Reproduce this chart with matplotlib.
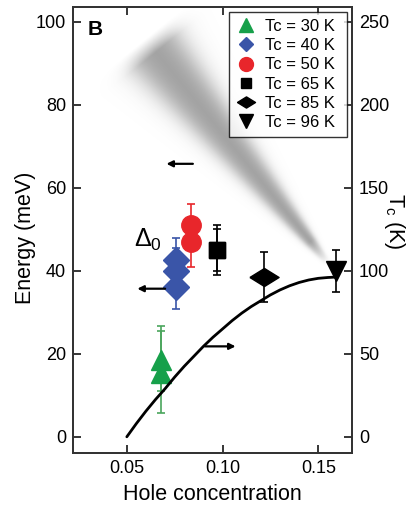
import numpy as np
import matplotlib
matplotlib.use('Agg')
import matplotlib.pyplot as plt
from matplotlib.lines import Line2D

plt.rcParams['font.family'] = ['Liberation Sans', 'DejaVu Sans']
plt.rcParams['mathtext.fontset'] = 'custom'
plt.rcParams['mathtext.rm'] = 'Liberation Sans'
plt.rcParams['mathtext.it'] = 'Liberation Sans:italic'

# gap data (energy in meV) per sample
tc30_x = [0.068, 0.068]
tc30_y = [18.5, 15.5]
tc30_err = [[7.5, 9.7], [8.3, 10.1]]
tc40_x = [0.0755, 0.0755, 0.0755]
tc40_y = [42.5, 40.0, 36.0]
tc40_err = [5.5, 5.5, 5.2]
tc50_x = [0.0835, 0.0835]
tc50_y = [51.0, 47.0]
tc50_err = [5.0, 6.0]
tc65_x = [0.097, 0.097]
tc65_y = [45.0, 45.0]
tc65_err = [6.0, 5.0]
tc85_x = [0.1215]
tc85_y = [38.5]
tc85_err = [6.0]
tc96_x = [0.159]
tc96_y = [40.0]
tc96_err = [5.0]

# Tc dome
dome_p = [0.050, 0.055, 0.060, 0.065, 0.070, 0.075, 0.080, 0.085, 0.090, 0.095,
          0.100, 0.105, 0.110, 0.115, 0.120, 0.125, 0.130, 0.135, 0.140, 0.145,
          0.150, 0.155, 0.160]
dome_tc = [0, 8, 15.5, 22.5, 29, 36, 42.5, 48.5, 54.5, 60,
           65, 70, 74.5, 78.5, 82, 85.5, 88.5, 91, 93, 94.5,
           95.5, 96, 96.3]

legend_labels = ['Tc = 30 K', 'Tc = 40 K', 'Tc = 50 K', 'Tc = 65 K', 'Tc = 85 K', 'Tc = 96 K']

xlim = (0.0219, 0.1676)
ylim = (-3.9, 103.6)

fig = plt.figure(figsize=(4.09, 5.14), dpi=100)
ax = fig.add_axes([0.1785, 0.1187, 0.6821, 0.8677])
ax.set_xlim(*xlim)
ax.set_ylim(*ylim)

# gray shaded streak (soft wedge)
nx, ny = 300, 400
gx = np.linspace(xlim[0], xlim[1], nx)
gy = np.linspace(ylim[0], ylim[1], ny)
GX, GY = np.meshgrid(gx, gy)
sx, sy = 95.5 / 0.05, 83 / 20.0
p0 = np.array([0.061 * sx, 95.2 * sy])
p1 = np.array([0.1526 * sx, 43.4 * sy])
d = p1 - p0
L = np.hypot(*d)
u = d / L
nrm = np.array([-u[1], u[0]])
PX = GX * sx - p0[0]
PY = GY * sy - p0[1]
t = (PX * u[0] + PY * u[1]) / L
dist = PX * nrm[0] + PY * nrm[1]
tc_ = np.clip(t, 0, 1)
w = 50 * (1 - tc_) + 6 * tc_
inten = 1.0 / (1.0 + np.exp((np.abs(dist) - 0.55 * w) / (0.17 * w)))
inten *= np.clip((t + 0.015) / 0.06, 0, 1) ** 1.2
inten *= np.clip((1.03 - t) / 0.10, 0, 1)
img = np.zeros((ny, nx, 4))
img[..., :3] = 0.56
img[..., 3] = 0.85 * inten
ax.imshow(img, extent=(xlim[0], xlim[1], ylim[0], ylim[1]), origin='lower',
          aspect='auto', zorder=0, interpolation='bilinear')

ebk = dict(ls='none', capsize=3, elinewidth=1.2, capthick=1.2)
ax.errorbar(tc30_x, tc30_y, yerr=tc30_err, marker='^', ms=14, color='#16a04a',
            ecolor='#4aa55c', mec='#16a04a', **ebk)
ax.errorbar(tc40_x, tc40_y, yerr=tc40_err, marker='D', ms=13, color='#3a55a8',
            ecolor='#3a55a8', **ebk)
ax.errorbar(tc50_x, tc50_y, yerr=tc50_err, marker='o', ms=14, color='#e8262b',
            ecolor='#e8262b', **ebk)
ax.errorbar(tc65_x, tc65_y, yerr=tc65_err, marker='s', ms=11, color='k', **ebk)
flat_d = [(-1, 0), (0, 0.62), (1, 0), (0, -0.62), (-1, 0)]
ax.errorbar(tc85_x, tc85_y, yerr=tc85_err, marker=flat_d, ms=21, color='k', **ebk)
ax.errorbar(tc96_x, tc96_y, yerr=tc96_err, marker='v', ms=15, color='k', **ebk)

arrow = dict(arrowstyle='-|>', lw=1.6, color='k', mutation_scale=9, shrinkA=0, shrinkB=0)
ax.annotate('', xy=(0.0707, 65.8), xytext=(0.0845, 65.8), arrowprops=arrow)
ax.annotate('', xy=(0.0555, 35.7), xytext=(0.0700, 35.7), arrowprops=arrow)
ax.annotate('', xy=(0.1068, 21.8), xytext=(0.0908, 21.8), arrowprops=arrow)

ax.text(0.0537, 45.8, r'$\mathregular{\Delta_0}$', fontsize=18, ha='left', va='baseline')
ax.text(0.0294, 96.9, 'B', fontsize=15, fontweight='bold', ha='left', va='baseline')

ax.set_xticks([0.05, 0.10, 0.15])
ax.set_xticklabels(['0.05', '0.10', '0.15'])
ax.set_yticks([0, 20, 40, 60, 80, 100])
ax.set_xlabel('Hole concentration', fontsize=15.5, labelpad=5)
ax.set_ylabel('Energy (meV)', fontsize=15.5)
ax.yaxis.set_label_coords(-0.132, 0.482)
ax.tick_params(direction='in', length=6, width=1.1, labelsize=13, top=True, pad=5)

ax2 = ax.twinx()
ax2.set_ylim(ylim[0] * 2.5, ylim[1] * 2.5)
ax2.set_yticks([0, 50, 100, 150, 200, 250])
ax2.tick_params(direction='in', length=6, width=1.1, labelsize=13, pad=5)
ax2.plot(dome_p, dome_tc, color='k', lw=2, solid_capstyle='round', zorder=3)
lab = ax2.set_ylabel(r'$\mathregular{T_c}$ (K)', fontsize=15.5, rotation=270)
lab.set_rotation_mode('anchor')
lab.set_va('center')
lab.set_ha('center')
ax2.yaxis.set_label_coords(1.152, 0.52)

for a in (ax, ax2):
    for s in a.spines.values():
        s.set_linewidth(1.3)
        s.set_color('#333333')

markers = ['^', 'D', 'o', 's', flat_d, 'v']
msizes = [10, 7.5, 10, 7.5, 13, 10]
colors = ['#16a04a', '#3a55a8', '#e8262b', 'k', 'k', 'k']
handles = [Line2D([], [], ls='none', marker=m, ms=s, color=c, label=lb + ' ')
           for m, s, c, lb in zip(markers, msizes, colors, legend_labels)]
leg = ax2.legend(handles=handles, loc='upper right', bbox_to_anchor=(0.981, 0.988),
                 fontsize=12, frameon=True, fancybox=False, edgecolor='k',
                 handlelength=1.3, handletextpad=0.5, labelspacing=0.25,
                 borderpad=0.4, borderaxespad=0)
leg.get_frame().set_linewidth(1.0)

fig.savefig('out.png', dpi=100)
